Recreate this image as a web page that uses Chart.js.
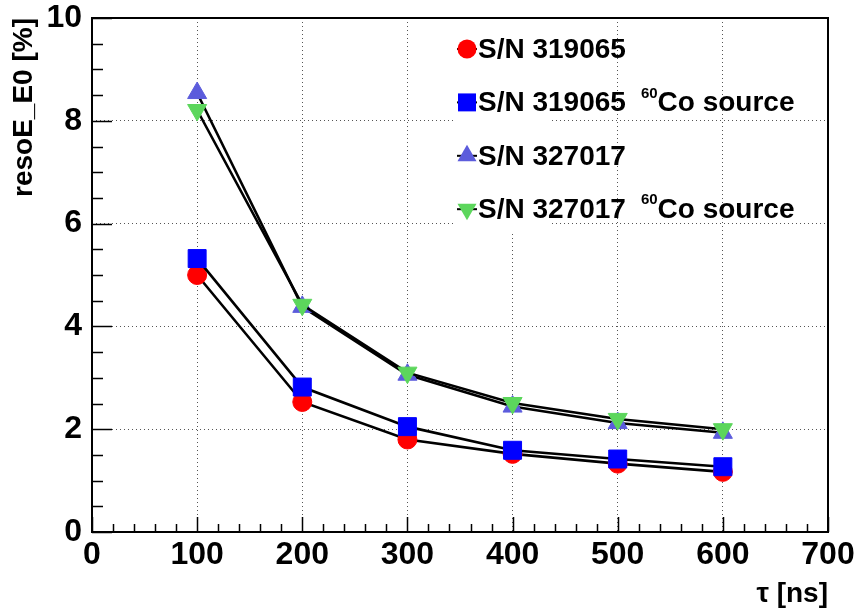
<!DOCTYPE html>
<html>
<head>
<meta charset="utf-8">
<title>resoE_E0 vs tau</title>
<script src="https://cdn.jsdelivr.net/npm/chart.js@4.4.1/dist/chart.umd.min.js"></script>
<style>
  body { margin: 0; background: #fff; }
  #wrap { width: 860px; height: 612px; }
</style>
</head>
<body>
<div id="wrap"><canvas id="resoChart" width="860" height="612"></canvas></div>
<script>
// shaping time [ns]
const tau = [100, 200, 300, 400, 500, 600];

// energy resolution [%]
const sn319065   = [5.00, 2.53, 1.80, 1.52, 1.33, 1.17];
const sn319065Co = [5.32, 2.82, 2.05, 1.59, 1.42, 1.27];
const sn327017   = [8.54, 4.38, 3.06, 2.44, 2.12, 1.93];
const sn327017Co = [8.21, 4.42, 3.10, 2.51, 2.20, 2.00];

const xTicks = [0, 100, 200, 300, 400, 500, 600, 700];
const yTicks = [0, 2, 4, 6, 8, 10];

const seriesNames = ['S/N 319065', 'S/N 319065', 'S/N 327017', 'S/N 327017'];
const withSource = [false, true, false, true];
const colors = ['#ff0000', '#0000ff', '#5c5cdc', '#5cd65c'];
const styles = ['circle', 'rect', 'triangle', 'triangle'];
const rotations = [0, 0, 0, 180];
const radii = [9.5, 12.7, 11, 11];

const FONT = '"Liberation Sans", Arial, Helvetica, sans-serif';

function toPoints(ys) {
    return tau.map((t, i) => ({ x: t, y: ys[i] }));
}

function makeSet(i, ys) {
    return {
        label: seriesNames[i],
        data: toPoints(ys),
        showLine: true,
        borderColor: '#000',
        borderWidth: 2.6,
        pointStyle: styles[i],
        pointRotation: rotations[i],
        pointRadius: radii[i],
        pointBackgroundColor: colors[i],
        pointBorderColor: colors[i],
        pointBorderWidth: 1,
        order: 4 - i
    };
}

// marker used in the home-made legend
function drawMarker(ctx, i, x, y) {
    const r = radii[i];
    ctx.save();
    ctx.fillStyle = colors[i];
    ctx.beginPath();
    if (styles[i] === 'circle') {
        ctx.arc(x, y, r, 0, Math.PI * 2);
    } else if (styles[i] === 'rect') {
        const s = r * Math.SQRT1_2;
        ctx.rect(x - s, y - s, 2 * s, 2 * s);
    } else {
        let a = rotations[i] * Math.PI / 180;
        ctx.moveTo(x + Math.sin(a) * r, y - Math.cos(a) * r);
        for (let k = 0; k < 2; k++) {
            a += Math.PI * 2 / 3;
            ctx.lineTo(x + Math.sin(a) * r, y - Math.cos(a) * r);
        }
        ctx.closePath();
    }
    ctx.fill();
    ctx.restore();
}

const rootFrame = {
    id: 'rootFrame',
    beforeDatasetsDraw(chart) {
        // legend box hides the grid behind it
        const ctx = chart.ctx;
        ctx.save();
        ctx.fillStyle = '#fff';
        ctx.fillRect(453, 22, 97, 210);
        ctx.restore();
    },
    afterDraw(chart) {
        const ctx = chart.ctx;
        const area = chart.chartArea;
        const xs = chart.scales.x;
        const ys = chart.scales.y;
        ctx.save();

        // inward ticks
        ctx.strokeStyle = '#000';
        ctx.lineWidth = 1.5;
        ctx.beginPath();
        for (let v = 0; v <= 700; v += 20) {
            const px = Math.round(xs.getPixelForValue(v)) + 0.5;
            const len = v % 100 === 0 ? 15 : 8;
            ctx.moveTo(px, area.bottom);
            ctx.lineTo(px, area.bottom - len);
        }
        for (let v = 0; v <= 10; v += 0.5) {
            const py = Math.round(ys.getPixelForValue(v)) + 0.5;
            const len = v % 2 === 0 ? 20 : 11;
            ctx.moveTo(area.left, py);
            ctx.lineTo(area.left + len, py);
        }
        ctx.stroke();

        // frame
        ctx.lineWidth = 2;
        ctx.strokeRect(area.left, area.top, area.right - area.left, area.bottom - area.top);

        // legend
        const lx = 467, ly0 = 49, dy = 53.4, tx = 478;
        ctx.textBaseline = 'middle';
        ctx.textAlign = 'left';
        for (let i = 0; i < seriesNames.length; i++) {
            const y = ly0 + dy * i;
            ctx.strokeStyle = '#000';
            ctx.lineWidth = 2;
            ctx.beginPath();
            ctx.moveTo(lx - 10, y);
            ctx.lineTo(lx + 10, y);
            ctx.stroke();
            drawMarker(ctx, i, lx, y);

            ctx.fillStyle = '#000';
            ctx.font = 'bold 28px ' + FONT;
            ctx.fillText(seriesNames[i], tx, y + 1);
            if (withSource[i]) {
                let x = tx + ctx.measureText(seriesNames[i]).width + 15;
                ctx.font = 'bold 15px ' + FONT;
                ctx.fillText('60', x, y - 9);
                x += ctx.measureText('60').width;
                ctx.font = 'bold 28px ' + FONT;
                ctx.fillText('Co source', x, y + 1);
            }
        }
        ctx.restore();
    }
};

const ctx = document.getElementById('resoChart').getContext('2d');
new Chart(ctx, {
    type: 'scatter',
    data: {
        datasets: [
            makeSet(0, sn319065),
            makeSet(1, sn319065Co),
            makeSet(2, sn327017),
            makeSet(3, sn327017Co)
        ]
    },
    options: {
        responsive: false,
        animation: false,
        layout: { padding: { left: 0, right: 32, top: 18, bottom: 0 } },
        plugins: {
            legend: { display: false },
            tooltip: { enabled: false }
        },
        scales: {
            x: {
                type: 'linear',
                min: 0,
                max: 700,
                afterFit(scale) {
                    scale.height = 80;
                    scale.paddingLeft = 0;
                    scale.paddingRight = 0;
                },
                afterBuildTicks(scale) { scale.ticks = xTicks.map(v => ({ value: v })); },
                grid: { color: '#555', lineWidth: 1, drawTicks: false },
                border: { display: false, dash: [1, 3] },
                ticks: {
                    padding: 7,
                    color: '#000',
                    font: { family: FONT, size: 32, weight: 'bold', lineHeight: 1 }
                },
                title: {
                    display: true,
                    text: 'τ [ns]',
                    align: 'end',
                    color: '#000',
                    padding: { top: 0, bottom: 1 },
                    font: { family: FONT, size: 28, weight: 'bold' }
                }
            },
            y: {
                type: 'linear',
                min: 0,
                max: 10,
                afterFit(scale) {
                    scale.width = 92;
                    scale.paddingTop = 0;
                    scale.paddingBottom = 0;
                },
                afterBuildTicks(scale) { scale.ticks = yTicks.map(v => ({ value: v })); },
                grid: { color: '#555', lineWidth: 1, drawTicks: false },
                border: { display: false, dash: [1, 3] },
                ticks: {
                    padding: 10,
                    color: '#000',
                    font: { family: FONT, size: 32, weight: 'bold', lineHeight: 1 }
                },
                title: {
                    display: true,
                    text: 'resoE_E0 [%]',
                    align: 'end',
                    color: '#000',
                    padding: { top: 7, bottom: 0 },
                    font: { family: FONT, size: 28, weight: 'bold' }
                }
            }
        }
    },
    plugins: [rootFrame]
});
</script>
</body>
</html>
